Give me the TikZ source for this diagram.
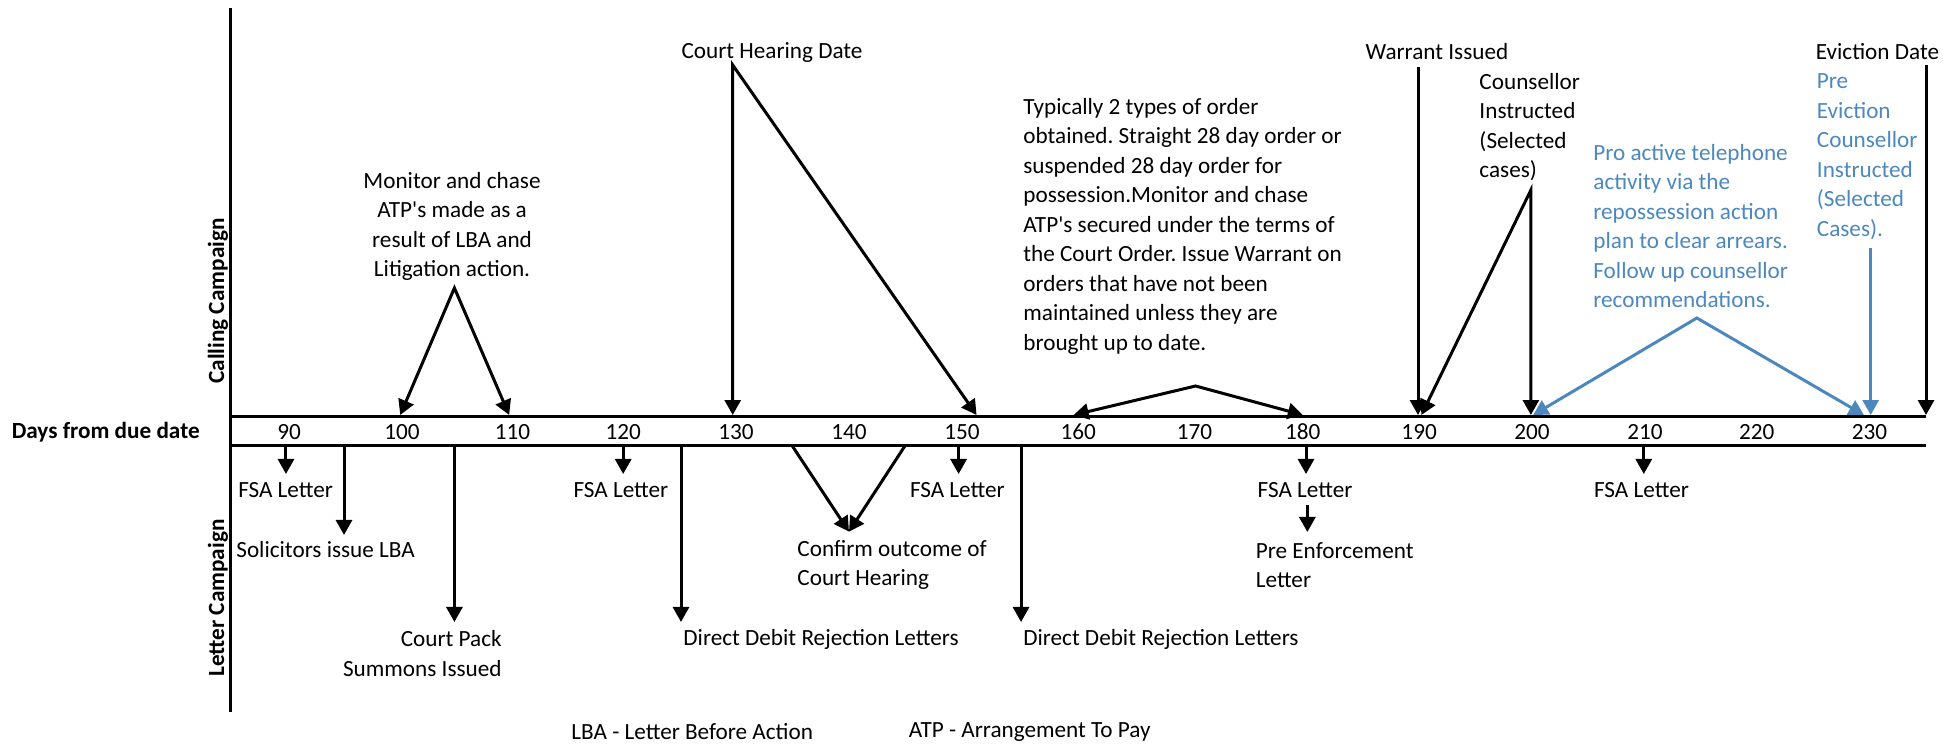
\documentclass[tikz,border=0pt]{standalone}
\usepackage{fontspec}
\setmainfont{Carlito}
\usetikzlibrary{arrows.meta}
\definecolor{callblue}{RGB}{76,136,190}
\tikzset{
    txt/.style = {inner sep=0pt, font=\fontsize{11.6}{14.75}\selectfont\frenchspacing},
    note/.style = {txt, align=left},
    cnote/.style = {txt, align=center},
    head/.style = {inner sep=0pt, font=\fontsize{11.6}{14.75}\selectfont\bfseries},
    axis/.style = {line width=1.5pt},
    arrow/.style = {-{Triangle[length=7.5pt, width=8pt]}, line width=1.5pt},
    darrow/.style = {{Triangle[length=7.5pt, width=8pt]}-{Triangle[length=7.5pt, width=8pt]}, line width=1.5pt, line join=miter},
    blue/.style = {draw=callblue}
}

\begin{document}
\begin{tikzpicture}[x=5.645pt, y=-0.5pt]
    \useasboundingbox (64.40,0) rectangle (238.01,746);

    \coordinate (axtop) at (84.86,8);
    \coordinate (axbot) at (84.86,712);
    \coordinate (upL) at (84.86,416);
    \coordinate (upR) at (235,416);
    \coordinate (loL) at (84.86,446);
    \coordinate (loR) at (235,446);
    \draw[axis] (axtop) -- (axbot);
    \draw[axis] (upL) -- (upR);
    \draw[axis] (loL) -- (loR);

    \node[head, anchor=east] (days) at (82.12,432) {Days from due date};
    \node[head, rotate=90] (calling) at (83.71,301) {Calling Campaign};
    \node[head, rotate=90] (letter) at (83.71,598) {Letter Campaign};
    \foreach \d/\x in {90/90, 100/100, 110/109.8, 120/119.6, 130/129.6, 140/139.6, 150/149.6, 160/159.9,
                       170/170.2, 180/179.8, 190/190.1, 200/200.1, 210/210.1, 220/220, 230/230}
        \node[txt] (n\d) at (\x,432) {\d};

    % calling campaign
    \node[cnote] (monitor) at (104.44,226.5) {Monitor and chase\\ATP\textquotesingle s made as a\\result of LBA and\\Litigation action.};
    \node[txt] (court) at (132.78,53) {Court Hearing Date};
    \node[note, anchor=west] (orders) at (155.01,226) {Typically 2 types of order\\obtained. Straight 28 day order or\\suspended 28 day order for\\possession.Monitor and chase\\ATP\textquotesingle s secured under the terms of\\the Court Order. Issue Warrant on\\orders that have not been\\maintained unless they are\\brought up to date.};
    \node[txt] (warrant) at (191.68,52) {Warrant Issued};
    \node[note, anchor=west] (couns) at (195.41,127) {Counsellor\\Instructed\\(Selected\\cases)};
    \node[note, anchor=west, text=callblue] (phone) at (205.5,226) {Pro active telephone\\activity via the\\repossession action\\plan to clear arrears.\\Follow up counsellor\\recommendations.};
    \node[txt] (eviction) at (230.7,52) {Eviction Date};
    \node[note, anchor=west, text=callblue] (preevict) at (225.3,156.5) {Pre\\Eviction\\Counsellor\\Instructed\\(Selected\\Cases).};

    \coordinate (monapex) at (104.65,288);
    \coordinate (t100) at (99.85,415);
    \coordinate (t110) at (109.5,415);
    \coordinate (chtop) at (129.3,65);
    \coordinate (t130) at (129.3,415);
    \coordinate (t151) at (150.9,415);
    \coordinate (oapex) at (170.3,386);
    \coordinate (t160) at (159.5,415);
    \coordinate (t180) at (179.8,415);
    \coordinate (wtop) at (190,67);
    \coordinate (t190) at (190,415);
    \coordinate (ctop) at (200,190);
    \coordinate (t200) at (200,415);
    \coordinate (t190b) at (190.3,415);
    \coordinate (bapex) at (214.7,318);
    \coordinate (t200b) at (200.2,415);
    \coordinate (t229) at (229.5,415);
    \coordinate (ptop) at (230.1,248);
    \coordinate (t230) at (230.1,415);
    \coordinate (etop) at (235,65);
    \coordinate (t235) at (235,415);

    \draw[darrow] (t100) -- (monapex) -- (t110);
    \draw[darrow] (t130) -- (chtop) -- (t151);
    \draw[darrow] (t160) -- (oapex) -- (t180);
    \draw[arrow] (wtop) -- (t190);
    \draw[darrow] (t190b) -- (ctop) -- (t200);
    \draw[darrow, blue] (t200b) -- (bapex) -- (t229);
    \draw[arrow, blue] (ptop) -- (t230);
    \draw[arrow] (etop) -- (t235);

    % letter campaign
    \node[txt] (fsa90) at (89.7,490) {FSA Letter};
    \node[txt, anchor=west] (lba) at (85.3,550) {Solicitors issue LBA};
    \node[note, align=right, anchor=east] (pack) at (108.87,653.5) {Court Pack\\Summons Issued};
    \node[txt] (fsa120) at (119.4,490) {FSA Letter};
    \node[txt, anchor=west] (dd125) at (124.9,639) {Direct Debit Rejection Letters};
    \node[note, anchor=west] (confirm) at (135,565) {Confirm outcome of\\Court Hearing};
    \node[txt] (fsa150) at (149.2,490) {FSA Letter};
    \node[txt, anchor=west] (dd155) at (155,639) {Direct Debit Rejection Letters};
    \node[txt] (fsa180) at (180,490) {FSA Letter};
    \node[note, anchor=west] (preenf) at (175.6,565) {Pre Enforcement\\Letter};
    \node[txt] (fsa210) at (209.8,490) {FSA Letter};

    \foreach \n/\x/\e in {90/89.73/474, 95/94.87/535, 105/104.65/622, 120/119.6/474, 125/124.72/622,
                          150/149.31/474, 155/154.84/622, 180/180.08/474, 210/210/474} {
        \coordinate (s\n) at (\x,446);
        \coordinate (e\n) at (\x,\e);
        \draw[arrow] (s\n) -- (e\n);
    }
    \coordinate (v135) at (134.58,446);
    \coordinate (v145) at (144.55,446);
    \coordinate (v140) at (139.6,531.7);
    \draw[arrow] (v135) -- (v140);
    \draw[arrow] (v145) -- (v140);
    \coordinate (pe1) at (180.2,505);
    \coordinate (pe2) at (180.2,532);
    \draw[arrow] (pe1) -- (pe2);

    \node[txt, anchor=west] (keylba) at (114.98,732) {LBA - Letter Before Action};
    \node[txt, anchor=west] (keyatp) at (144.87,732) {ATP - Arrangement To Pay};
\end{tikzpicture}
\end{document}
